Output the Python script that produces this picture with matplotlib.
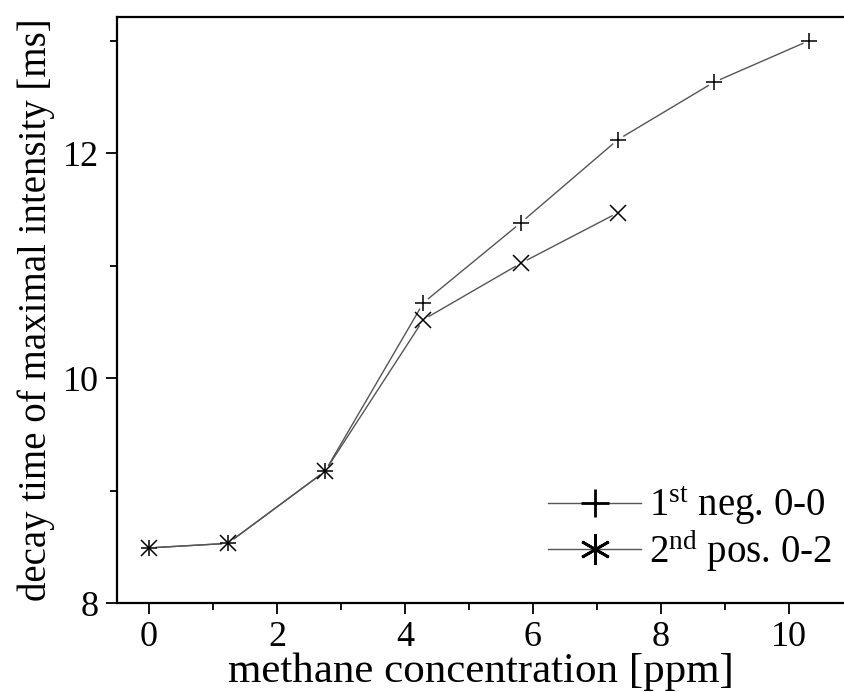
import matplotlib
matplotlib.use("Agg")
import matplotlib.pyplot as plt
from matplotlib.lines import Line2D

plt.rcParams['font.family'] = ['Liberation Serif', 'DejaVu Serif']
plt.rcParams['mathtext.fontset'] = 'custom'
plt.rcParams['mathtext.rm'] = 'Liberation Serif'
plt.rcParams['mathtext.it'] = 'Liberation Serif:italic'

# methane concentration [ppm]
conc_neg = [0.0, 1.23, 2.75, 4.29, 5.81, 7.33, 8.83, 10.32]
decay_neg = [8.49, 8.53, 9.17, 10.67, 11.38, 12.12, 12.63, 13.00]
conc_pos = [0.0, 1.23, 2.75, 4.29, 5.81, 7.33]
decay_pos = [8.49, 8.53, 9.17, 10.52, 11.02, 11.47]

label_neg = "1$^{\\rm st}$ neg. 0-0"
label_pos = "2$^{\\rm nd}$ pos. 0-2"

fig = plt.figure(figsize=(8.45, 6.92), dpi=100)
ax = fig.add_axes([0.1385, 0.1286, 0.8615, 0.8468])

line_col = "#555555"
ax.plot(conc_neg, decay_neg, color=line_col, linewidth=1.0, zorder=2)
ax.plot(conc_pos, decay_pos, color=line_col, linewidth=1.0, zorder=2)
# small white gaps around the points, like the original plot
ax.plot(conc_neg, decay_neg, linestyle='none', marker='o', markersize=9,
        markerfacecolor='white', markeredgecolor='none', zorder=3)
ax.plot(conc_pos, decay_pos, linestyle='none', marker='o', markersize=9,
        markerfacecolor='white', markeredgecolor='none', zorder=3)
ax.plot(conc_neg, decay_neg, linestyle='none', marker='+', markersize=12,
        markeredgewidth=1.1, color='black', zorder=4)
ax.plot(conc_pos, decay_pos, linestyle='none', marker='x', markersize=12,
        markeredgewidth=1.1, color='black', zorder=4)

ax.set_xlim(-0.5, 10.88)
ax.set_ylim(8, 13.21)
ax.set_xticks([0, 2, 4, 6, 8, 10])
ax.set_xticks([1, 3, 5, 7, 9], minor=True)
ax.set_yticks([8, 10, 12])
ax.set_yticks([9, 11, 13], minor=True)

for side in ['left', 'bottom', 'top']:
    ax.spines[side].set_linewidth(1.6)
ax.spines['right'].set_visible(False)
ax.tick_params(which='major', direction='out', length=8, width=1.3,
               labelsize=26, pad=5, top=False, right=False)
ax.tick_params(which='minor', direction='out', length=5, width=1.3,
               top=False, right=False)

ax.set_xlabel("methane concentration [ppm]", fontsize=31, labelpad=-1)
ax.set_ylabel("decay time of maximal intensity [ms]", fontsize=28, labelpad=6)

handles = [
    Line2D([], [], color=line_col, linewidth=1.0, marker='+', markersize=20,
           markeredgewidth=2.0, markeredgecolor='black'),
    Line2D([], [], color=line_col, linewidth=1.0, marker=(6, 2, 0), markersize=22,
           markeredgewidth=2.0, markeredgecolor='black'),
]
ax.legend(handles, [label_neg, label_pos], loc='lower right', frameon=False,
          fontsize=28, handlelength=2.4, handletextpad=0.2, labelspacing=0.0,
          bbox_to_anchor=(1.03, -0.01))

fig.savefig("out.png", dpi=100)
